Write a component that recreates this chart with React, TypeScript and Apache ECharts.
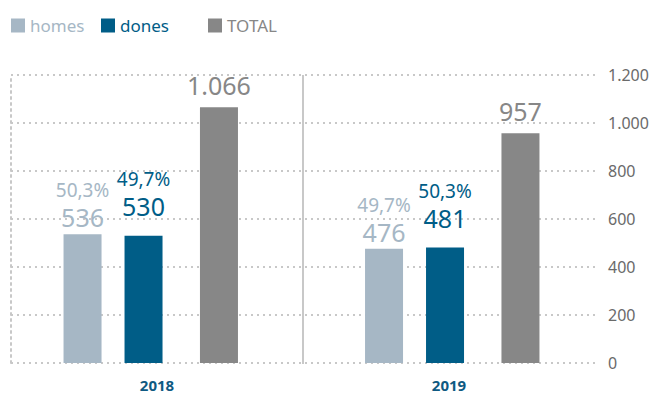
import React, { useEffect, useRef } from "react";
import * as echarts from "echarts";

const years = ["2018", "2019"];
const homesValues = [536, 476];
const donesValues = [530, 481];
const totalValues = [1066, 957];
const homesPct = [50.3, 49.7];
const donesPct = [49.7, 50.3];
const yTicks = [0, 200, 400, 600, 800, 1000, 1200];

const C_HOMES = "#a6b7c5";
const C_DONES = "#005d87";
const C_TOTAL = "#878787";
const FONT = "Noto Sans";

const fmtNum = (v: number) => v.toString().replace(/\B(?=(\d{3})+(?!\d))/g, ".");
const fmtPct = (v: number) => v.toFixed(1).replace(".", ",") + "%";

export default function App() {
  const ref = useRef<HTMLDivElement>(null);
  useEffect(() => {
    if (!ref.current) return;
    document.body.style.margin = "0";
    const chart = echarts.init(ref.current, null, { renderer: "svg" });
    const dotted = { color: "#c8c8c8", width: 2, type: [2, 4] as any };
    const yMin = yTicks[0];
    const yMax = yTicks[yTicks.length - 1];
    const yStep = yTicks[1] - yTicks[0];
    const pairLabel = (pcts: number[], color: string, distance: number) => ({
      show: true,
      position: "top",
      distance,
      formatter: (p: any) => `{p|${fmtPct(pcts[p.dataIndex])}}\n{v|${fmtNum(p.value)}}`,
      rich: {
        p: { fontFamily: FONT, fontSize: 19, color, lineHeight: 26, align: "center" },
        v: { fontFamily: FONT, fontSize: 25, color, lineHeight: 28, align: "center" },
      },
    });
    const legendItem = (name: string, left: number, color: string) => ({
      left,
      top: 17,
      padding: 0,
      itemWidth: 14,
      itemHeight: 14,
      itemGap: 0,
      icon: "rect",
      data: [name],
      textStyle: { fontFamily: FONT, fontSize: 17, color },
      selectedMode: false,
    });
    const barCommon = {
      type: "bar",
      xAxisIndex: 1,
      yAxisIndex: 2,
      barGap: "60.5%",
    };
    chart.setOption({
      animation: false,
      textStyle: { fontFamily: FONT },
      legend: [
        legendItem("homes", 11, C_HOMES),
        legendItem("dones", 101, C_DONES),
        legendItem("TOTAL", 208, C_TOTAL),
      ],
      grid: [
        { left: 11, right: 59, top: 75, bottom: 33, containLabel: false },
        { left: -12, right: 51, top: 75, bottom: 33, containLabel: false },
      ],
      xAxis: [
        {
          type: "category",
          gridIndex: 0,
          data: years,
          axisLine: { show: false },
          axisTick: { show: false },
          axisLabel: {
            margin: 14,
            fontFamily: FONT,
            fontSize: 15,
            fontWeight: "bold",
            color: "#0f5a82",
          },
          splitLine: { show: false },
        },
        {
          type: "category",
          gridIndex: 1,
          data: years,
          show: false,
        },
      ],
      yAxis: [
        {
          type: "value",
          gridIndex: 0,
          position: "right",
          min: yMin,
          max: yMax,
          interval: yStep,
          axisLine: { show: false },
          axisTick: { show: false },
          axisLabel: {
            margin: 13,
            fontFamily: FONT,
            fontSize: 16,
            color: "#6a6a6a",
            formatter: (v: number) => fmtNum(v),
          },
          splitLine: { show: true, lineStyle: dotted },
        },
        {
          type: "value",
          gridIndex: 0,
          position: "left",
          min: yMin,
          max: yMax,
          interval: yStep,
          axisLine: { show: true, lineStyle: dotted },
          axisTick: { show: false },
          axisLabel: { show: false },
          splitLine: { show: false },
        },
        {
          type: "value",
          gridIndex: 1,
          min: yMin,
          max: yMax,
          interval: yStep,
          show: false,
          splitLine: { show: false },
        },
      ],
      series: [
        {
          ...barCommon,
          name: "homes",
          data: homesValues,
          barWidth: 38,
          itemStyle: { color: C_HOMES },
          label: pairLabel(homesPct, C_HOMES, 3),
        },
        {
          ...barCommon,
          name: "dones",
          data: donesValues,
          barWidth: 38,
          itemStyle: { color: C_DONES },
          label: pairLabel(donesPct, C_DONES, 16),
        },
        {
          ...barCommon,
          name: "spacer",
          data: years.map(() => null),
          barWidth: 9,
          silent: true,
        },
        {
          ...barCommon,
          name: "TOTAL",
          data: totalValues,
          barWidth: 38,
          itemStyle: { color: C_TOTAL },
          label: {
            show: true,
            position: "top",
            distance: 10,
            fontFamily: FONT,
            fontSize: 25,
            color: C_TOTAL,
            formatter: (p: any) => fmtNum(p.value),
          },
        },
      ],
    });
    // separator between the two years, placed through the axes' own scales
    const x0 = chart.convertToPixel({ xAxisIndex: 0 }, years[0]) as number;
    const x1 = chart.convertToPixel({ xAxisIndex: 0 }, years[1]) as number;
    const yTop = chart.convertToPixel({ yAxisIndex: 0 }, yMax) as number;
    const yBot = chart.convertToPixel({ yAxisIndex: 0 }, yMin) as number;
    const xm = (x0 + x1) / 2;
    chart.setOption({
      graphic: [
        {
          type: "line",
          shape: { x1: xm, y1: yTop, x2: xm, y2: yBot + 1 },
          style: { stroke: "#c8c8c8", lineWidth: 2 },
          z: 0,
        },
      ],
    });
    return () => chart.dispose();
  }, []);
  return <div ref={ref} style={{ width: 654, height: 396 }} />;
}
